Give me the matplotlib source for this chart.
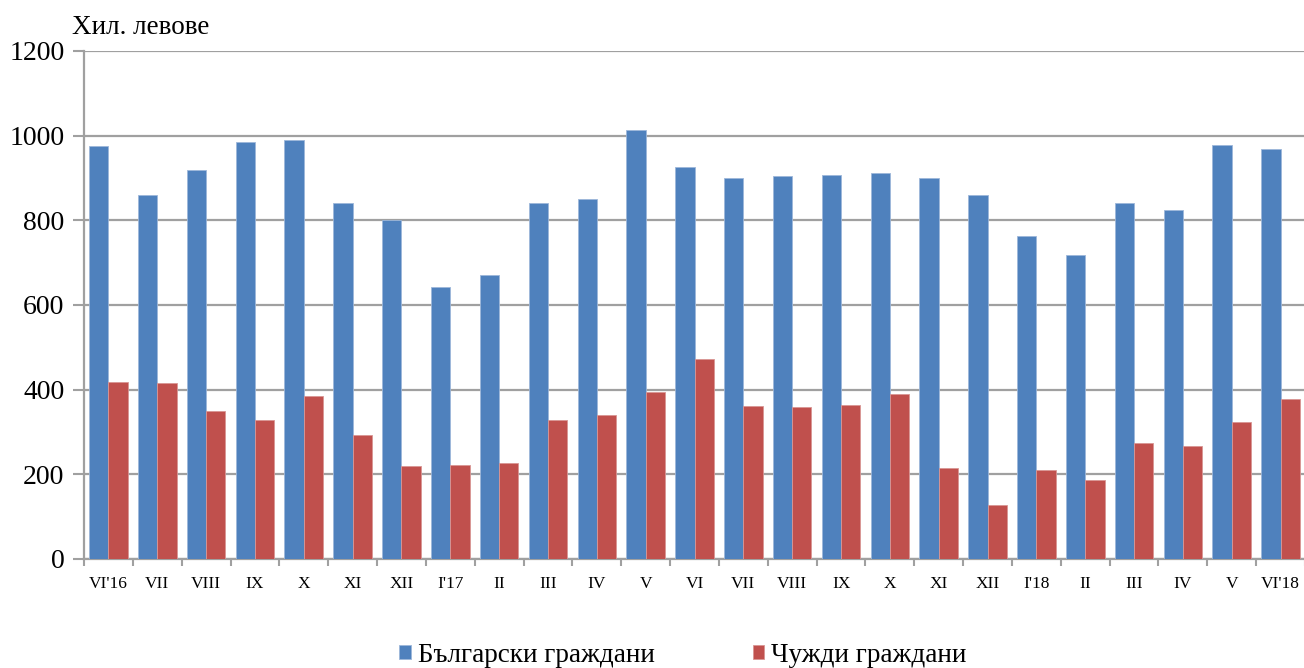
import matplotlib.pyplot as plt
import numpy as np

# Months VI'16 .. VI'18
months = ["VI'16", "VII", "VIII", "IX", "X", "XI", "XII", "I'17", "II", "III", "IV", "V",
          "VI", "VII", "VIII", "IX", "X", "XI", "XII", "I'18", "II", "III", "IV", "V", "VI'18"]

# thousand leva
bulgarian = [975, 861, 920, 985, 990, 840, 800, 643, 672, 840, 851, 1013,
             927, 900, 904, 908, 912, 900, 860, 763, 718, 841, 824, 977, 968]
foreign = [417, 416, 350, 329, 385, 293, 220, 222, 226, 329, 340, 394,
           472, 362, 360, 364, 390, 216, 127, 210, 187, 275, 268, 324, 379]

BLUE = "#4F81BD"
RED = "#C0504D"
GRID = "#A0A0A0"

plt.rcParams['font.family'] = ['Liberation Serif', 'DejaVu Serif']

fig = plt.figure(figsize=(13.04, 6.68), dpi=100)
ax = fig.add_axes([84 / 1304, 1 - 559 / 668, (1305 - 84) / 1304, (559 - 51) / 668])

x = np.arange(len(months))
w = 0.395
ax.bar(x - w / 2, bulgarian, width=w, color=BLUE, edgecolor="#9DB7DA", linewidth=0.6,
       label="Български граждани", zorder=3)
ax.bar(x + w / 2, foreign, width=w, color=RED, edgecolor="#D99694", linewidth=0.6,
       label="Чужди граждани", zorder=3)

ax.set_xlim(-0.5, len(months) - 0.5)
ax.set_ylim(0, 1200)
ax.set_yticks(range(0, 1201, 200))
ax.yaxis.grid(True, color=GRID, linewidth=1.6, zorder=0)
ax.set_axisbelow(True)

ax.set_xticks(x)
ax.set_xticklabels(months, fontsize=12.5)
ax.set_xticks(np.arange(-0.5, len(months) + 0.5, 1), minor=True)
ax.tick_params(axis='x', which='major', length=0, pad=12)
ax.tick_params(axis='x', which='minor', length=5, color=GRID, width=1.5)
ax.tick_params(axis='y', labelsize=20, length=8, color=GRID, width=1.5, pad=6)

for s in ["top", "right"]:
    ax.spines[s].set_visible(False)
for s in ["left", "bottom"]:
    ax.spines[s].set_color(GRID)
    ax.spines[s].set_linewidth(1.6)

fig.text(72 / 1304, 1 - 34 / 668, "Хил. левове", fontsize=19.5)

leg = fig.legend(loc="center", bbox_to_anchor=(683 / 1304, 1 - 655 / 668), ncol=2,
                 frameon=False, fontsize=19.5, handlelength=0.42, handleheight=0.42,
                 handletextpad=0.28, columnspacing=3.6)

fig.savefig("out.png", dpi=100)
